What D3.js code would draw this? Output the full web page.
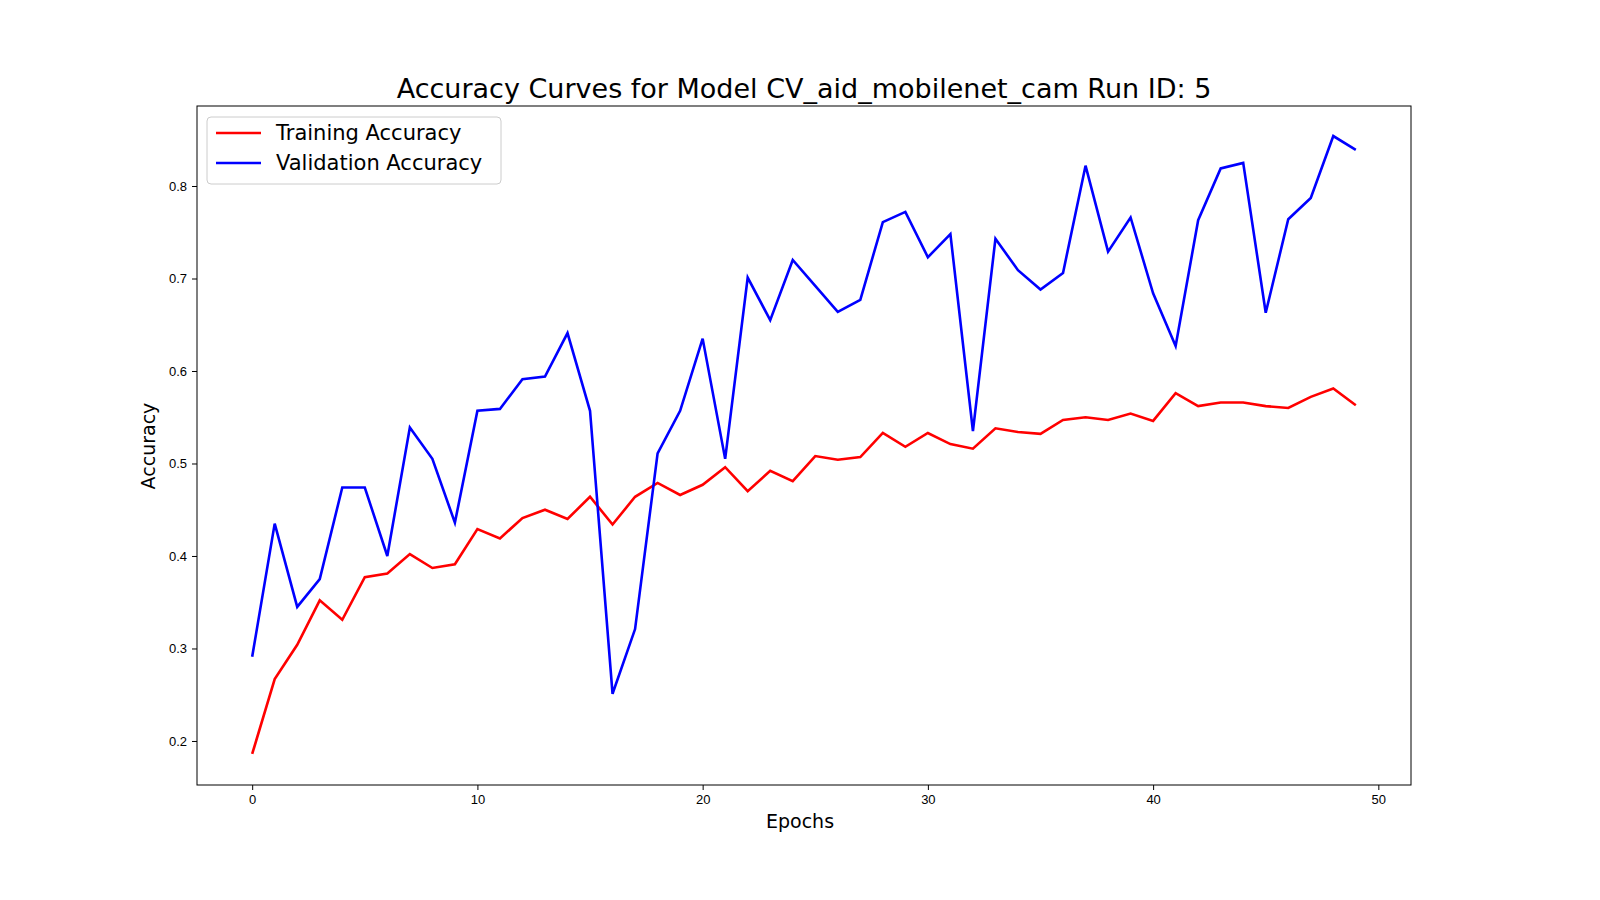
<!DOCTYPE html>
<html><head><meta charset="utf-8">
<script src="https://cdn.jsdelivr.net/npm/d3@7"></script>
<style>body{margin:0;background:#fff}svg{font-family:"DejaVu Sans",sans-serif}</style>
</head><body><svg id="chart" width="1600" height="900"></svg>
<script>
var epochs = d3.range(50);
var trainAcc = [0.186,0.267,0.304,0.352,0.331,0.377,0.381,0.402,0.387,0.391,
  0.429,0.419,0.441,0.450,0.440,0.464,0.434,0.464,0.479,0.466,
  0.477,0.496,0.470,0.492,0.481,0.508,0.504,0.507,0.533,0.518,
  0.533,0.521,0.516,0.538,0.534,0.532,0.547,0.550,0.547,0.554,
  0.546,0.576,0.562,0.566,0.566,0.562,0.560,0.572,0.581,0.563];
var valAcc = [0.291,0.435,0.345,0.375,0.474,0.474,0.400,0.539,0.505,0.436,
  0.557,0.559,0.591,0.594,0.641,0.557,0.251,0.321,0.511,0.557,
  0.635,0.505,0.701,0.655,0.720,0.692,0.664,0.677,0.761,0.772,
  0.723,0.748,0.535,0.743,0.709,0.688,0.706,0.822,0.729,0.766,
  0.684,0.627,0.763,0.819,0.825,0.663,0.764,0.787,0.854,0.839];
var xTicks = [0,10,20,30,40,50];
var yTicks = [0.2,0.3,0.4,0.5,0.6,0.7,0.8];
var series = [
  {name: "Training Accuracy", values: trainAcc, color: "red"},
  {name: "Validation Accuracy", values: valAcc, color: "blue"}
];

var svg = d3.select("#chart");
var pLeft = 197, pRight = 1411, pTop = 106, pBottom = 785;
var x = d3.scaleLinear().domain([-2.45, 51.45]).range([pLeft, pRight]);
var y = d3.scaleLinear().domain([0.1524, 0.8865]).range([pBottom, pTop]);

svg.append("g").attr("transform", "translate(0," + pBottom + ")")
  .call(d3.axisBottom(x).tickValues(xTicks).tickSize(5).tickPadding(5))
  .call(g => g.select(".domain").remove())
  .selectAll("text").style("font-size", "13px");
svg.append("g").attr("transform", "translate(" + pLeft + ",0)")
  .call(d3.axisLeft(y).tickValues(yTicks).tickFormat(d3.format(".1f")).tickSize(5).tickPadding(5))
  .call(g => g.select(".domain").remove())
  .selectAll("text").style("font-size", "13px");

var line = d3.line().x((d, i) => x(epochs[i])).y(d => y(d));
series.forEach(s => {
  svg.append("path").datum(s.values).attr("d", line)
    .attr("fill", "none").attr("stroke", s.color).attr("stroke-width", 2.6);
});

svg.append("rect").attr("x", pLeft).attr("y", pTop).attr("width", pRight - pLeft).attr("height", pBottom - pTop)
  .attr("fill", "none").attr("stroke", "#000").attr("stroke-width", 1);

svg.append("text").attr("x", 804).attr("y", 98).attr("text-anchor", "middle")
  .style("font-size", "27px").text("Accuracy Curves for Model CV_aid_mobilenet_cam Run ID: 5");
svg.append("text").attr("x", 800).attr("y", 828).attr("text-anchor", "middle")
  .style("font-size", "19px").text("Epochs");
svg.append("text").attr("transform", "translate(155,446) rotate(-90)").attr("text-anchor", "middle")
  .style("font-size", "19px").text("Accuracy");

// legend
var lg = svg.append("g");
lg.append("rect").attr("x", 207).attr("y", 117).attr("width", 294).attr("height", 67).attr("rx", 4)
  .attr("fill", "#fff").attr("fill-opacity", 0.8).attr("stroke", "#ccc");
series.forEach((s, i) => {
  var yy = 133 + i * 30;
  lg.append("line").attr("x1", 216).attr("x2", 261).attr("y1", yy).attr("y2", yy)
    .attr("stroke", s.color).attr("stroke-width", 2.6);
  lg.append("text").attr("x", 276).attr("y", yy + 7).style("font-size", "21px").text(s.name);
});
</script></body></html>
